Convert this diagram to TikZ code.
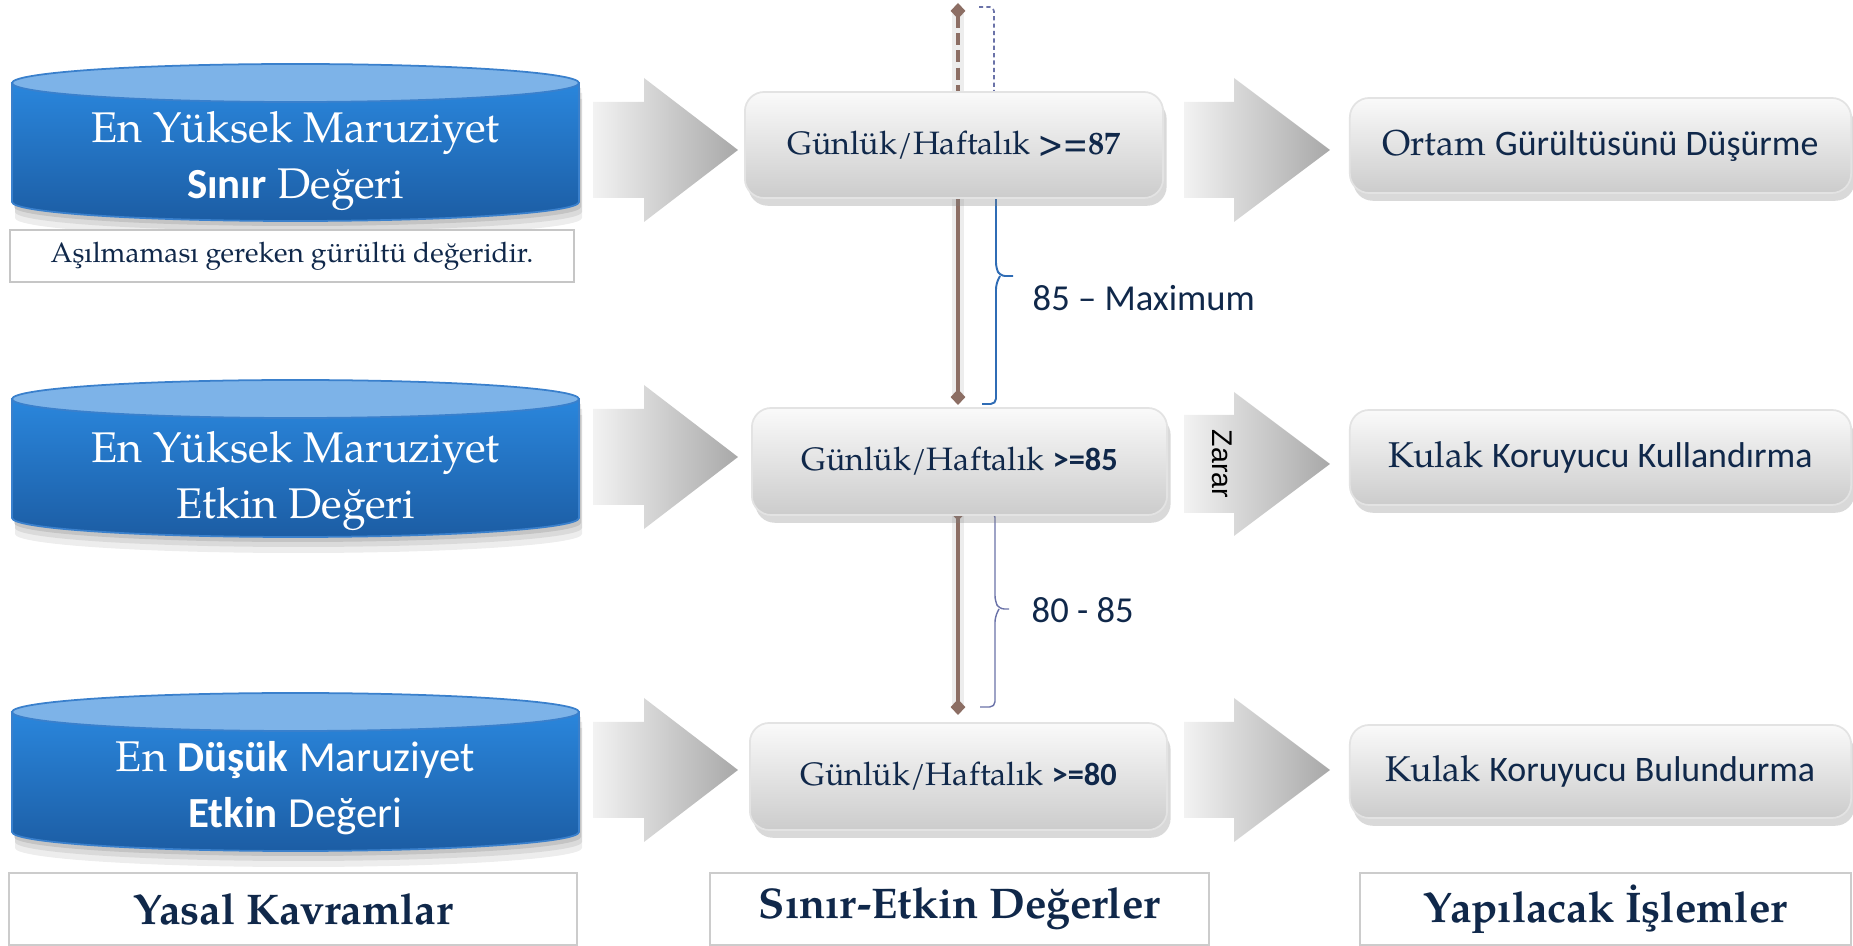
\documentclass[tikz,border=0pt]{standalone}
\usepackage{fontspec}
\setmainfont{TeX Gyre Pagella}
\newfontfamily\calib{Carlito}
\newfontfamily\arialf{Liberation Sans}
\usetikzlibrary{arrows.meta,shadows}
\definecolor{navy}{HTML}{10284A}
\definecolor{brn}{HTML}{8C6E64}
\definecolor{brc}{HTML}{6A72A8}
\definecolor{brb}{HTML}{2F6CB5}
\definecolor{cyltop}{HTML}{7DB3E8}
\definecolor{cylA}{HTML}{2A86DC}
\definecolor{cylB}{HTML}{1C5DA4}
\definecolor{cyledge}{HTML}{3A80CC}
\tikzset{
  midbox/.style={rounded corners=5.5pt, draw=gray!22, line width=0.5pt,
    top color=gray!4, bottom color=gray!40,
    drop shadow={shadow xshift=1pt, shadow yshift=-2.2pt, opacity=0.3},
    text=navy, inner sep=0pt, font=\fontsize{9.2}{11}\selectfont},
  rightbox/.style={midbox, font=\fontsize{10.2}{12}\selectfont},
  cyltext/.style={text=white, align=center, inner sep=0pt,
    font=\fontsize{12.2}{15.9}\selectfont},
  capbox/.style={draw=gray!45, line width=0.6pt, fill=white, inner sep=0pt,
    text=navy, font=\fontsize{8}{10}\selectfont},
  labbox/.style={draw=gray!40, line width=0.6pt, fill=white, inner sep=0pt,
    minimum height=0.72cm, text=navy, font=\bfseries\fontsize{12.2}{14}\selectfont},
  bracelabel/.style={anchor=west, inner sep=0pt, text=navy,
    font=\calib\fontsize{10.4}{12}\selectfont},
  brnglow/.style={black!7, line width=3.4pt},
  brnline/.style={brn, line width=1.14pt},
  brnsolid/.style={brn, line width=1.14pt},
  dtip/.tip={Diamond[length=4.5pt,width=4.2pt]},
}
\newcommand\cylbody[5]{%
  \pgfmathsetmacro\cylcx{(#2+#3)/2}%
  \pgfmathsetmacro\cylkx{0.5523*(#3-#2)/2}%
  \path[#1] (#2,#4) -- (#2,#5) .. controls (#2,#5+10.5) and (\cylcx-\cylkx,#5+19) .. (\cylcx,#5+19)
     .. controls (\cylcx+\cylkx,#5+19) and (#3,#5+10.5) .. (#3,#5) -- (#3,#4) -- cycle;}
\newcommand\drawcyl[4]{%
  \cylbody{fill=black,opacity=.07,shift={(3,16)}}{#1}{#2}{#3}{#4}
  \cylbody{fill=black,opacity=.08,shift={(3,10)}}{#1}{#2}{#3}{#4}
  \cylbody{fill=black,opacity=.10,shift={(2,5)}}{#1}{#2}{#3}{#4}
  \cylbody{top color=cylA,bottom color=cylB,draw=cyledge,line width=0.5pt}{#1}{#2}{#3}{#4}
  \pgfmathsetmacro\cylcx{(#1+#2)/2}%
  \pgfmathsetmacro\cylrx{(#2-#1)/2}%
  \path[fill=cyltop, draw=cyledge, line width=0.5pt] (\cylcx,#3) ellipse[x radius=\cylrx, y radius=19];}
\newcommand\blockarr[6]{%
  \shade[left color=gray!10, right color=gray!68]
    (#1,#4-#5) -- (#2,#4-#5) -- (#2,#4-#6) -- (#3,#4) -- (#2,#4+#6) -- (#2,#4+#5) -- (#1,#4+#5) -- cycle;}
\begin{document}
\begin{tikzpicture}[x=0.01cm,y=-0.01cm]
\useasboundingbox (0,0) rectangle (1853,946);

% cylinders
\drawcyl{12}{579}{83}{202}
\drawcyl{12}{579}{399}{518}
\drawcyl{12}{579}{712}{832}
\node[cyltext] (c1) at (295.5,161) {En Yüksek Maruziyet\\{\calib\bfseries Sınır} Değeri};
\node[cyltext] (c2) at (295.5,481) {En Yüksek Maruziyet\\Etkin Değeri};
\node[cyltext] (c3) at (295.5,788) {En {\calib\bfseries Düşük} {\calib Maruziyet}\\{\calib\bfseries Etkin} {\calib Değeri}};
\node[capbox, minimum width=5.64cm, minimum height=0.52cm] (cap) at (292,256) {Aşılmaması gereken gürültü değeridir.};

% block arrows
\blockarr{593}{644}{738}{150}{48}{72}
\blockarr{1184}{1234}{1330}{150}{48}{72}
\blockarr{593}{644}{738}{457}{48}{72}
\blockarr{1184}{1234}{1330}{464}{49}{72}
\blockarr{593}{644}{738}{770}{48}{72}
\blockarr{1184}{1234}{1330}{770}{48}{72}
\node[rotate=-90, inner sep=0pt, text=black, font=\arialf\fontsize{8.1}{9}\selectfont] (zarar) at (1222,464) {Zarar};

% vertical scale lines
\coordinate (t1) at (958,3);
\coordinate (m1) at (958,120);
\coordinate (b1) at (958,405);
\coordinate (t2) at (958,505);
\coordinate (b2) at (958,715);
\draw[brnglow] (958,12) -- (958,398);
\draw[brnglow] (958,512) -- (958,708);
\draw[brnline, dash pattern=on 3.4pt off 1.5pt, {dtip}-] (t1) -- (m1);
\draw[brnsolid, -{dtip}] (m1) -- (b1);
\draw[brnsolid, {dtip}-{dtip}] (t2) -- (b2);

% braces
\coordinate (br1a) at (979,7);
\coordinate (br1b) at (994,150);
\coordinate (br1tip) at (1013,276);
\coordinate (br1c) at (982,404);
\draw[brc, line width=0.45pt, dash pattern=on 1.2pt off 0.9pt, rounded corners=1.2pt]
  (br1a) -- (994,7) -- (br1b);
\draw[brb, line width=0.55pt, rounded corners=1.5pt]
  (996,150) -- (996,268) -- (1000,276) -- (br1tip);
\draw[brb, line width=0.55pt, rounded corners=1.5pt]
  (1000,276) -- (996,284) -- (996,404) -- (br1c);
\coordinate (br2a) at (980,512);
\coordinate (br2tip) at (1009,609);
\coordinate (br2c) at (980,707);
\draw[brc, line width=0.4pt, rounded corners=1.5pt]
  (br2a) -- (995,512) -- (995,601) -- (999,609) -- (br2tip);
\draw[brc, line width=0.4pt, rounded corners=1.5pt]
  (999,609) -- (995,617) -- (995,707) -- (br2c);
\node[bracelabel] (lab1) at (1032,298) {85 – Maximum};
\node[bracelabel] (lab2) at (1031,610) {80 - 85};

% middle boxes
\node[midbox, minimum width=4.18cm, minimum height=1.06cm] (m87) at (954,145)
  {Günlük/Haftalık \textbf{>=87}};
\node[midbox, minimum width=4.15cm, minimum height=1.07cm] (m85) at (959.5,461.5)
  {Günlük/Haftalık {\calib\bfseries >=85}};
\node[midbox, minimum width=4.17cm, minimum height=1.07cm] (m80) at (958.5,776.5)
  {Günlük/Haftalık {\calib\bfseries >=80}};

% right boxes
\node[rightbox, minimum width=5.01cm, minimum height=0.95cm] (r1) at (1600.5,145.5)
  {Ortam {\calib Gürültüsünü Düşürme}};
\node[rightbox, minimum width=5.01cm, minimum height=0.95cm] (r2) at (1600.5,457.5)
  {Kulak {\calib Koruyucu Kullandırma}};
\node[rightbox, minimum width=5.01cm, minimum height=0.93cm] (r3) at (1600.5,771.5)
  {Kulak {\calib Koruyucu Bulundurma}};

% bottom labels
\node[labbox, minimum width=5.68cm] (L1) at (293,909) {Yasal Kavramlar};
\node[labbox, minimum width=4.99cm] (L2) at (959.5,909) {Sınır-Etkin Değerler};
\node[labbox, minimum width=4.91cm] (L3) at (1605.5,909) {Yapılacak İşlemler};
\end{tikzpicture}
\end{document}
